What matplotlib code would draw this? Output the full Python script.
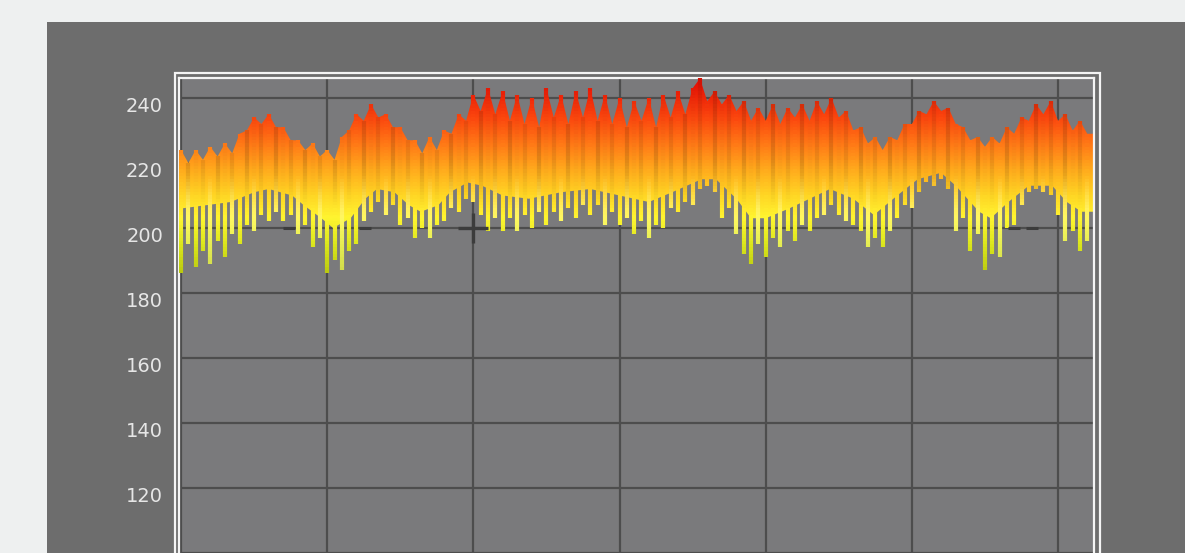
import numpy as np
import matplotlib
matplotlib.use("Agg")
import matplotlib.pyplot as plt
from matplotlib.collections import LineCollection
from matplotlib.colors import LinearSegmentedColormap, Normalize
from matplotlib.patches import Polygon, Rectangle
import matplotlib.transforms as mtransforms

W, H, DPI = 1185, 553, 100

# ---- data -----------------------------------------------------------------
x_step = 2.5  # spacing of the traces along x

# upper end of each trace
peak = [224, 220, 224, 221, 225, 222, 226, 223, 229, 230,
        234, 232, 235, 231, 231, 227, 227, 224, 226, 222,
        224, 221, 228, 230, 235, 233, 238, 234, 235, 231,
        231, 227, 227, 223, 228, 224, 230, 229, 235, 233,
        241, 236, 243, 235, 242, 233, 241, 232, 240, 231,
        243, 234, 241, 232, 242, 234, 243, 233, 241, 232,
        240, 231, 239, 233, 240, 231, 241, 234, 242, 235,
        243, 246, 239, 242, 238, 241, 236, 239, 233, 237,
        233, 238, 232, 237, 234, 238, 233, 239, 235, 240,
        234, 236, 230, 231, 226, 228, 224, 228, 227, 232,
        232, 236, 235, 239, 236, 237, 232, 231, 227, 228,
        225, 228, 226, 231, 229, 234, 233, 238, 235, 239,
        233, 235, 230, 233, 229]

# lower end of each trace
trough = [186, 195, 188, 193, 189, 196, 191, 198, 195, 201,
          199, 204, 202, 205, 202, 204, 198, 201, 194, 197,
          186, 190, 187, 193, 195, 202, 205, 208, 204, 207,
          201, 203, 197, 200, 197, 201, 202, 206, 205, 209,
          208, 204, 199, 203, 199, 203, 199, 204, 200, 205,
          201, 205, 202, 206, 203, 207, 204, 207, 201, 205,
          201, 203, 198, 202, 197, 201, 200, 206, 205, 208,
          207, 212, 213, 211, 203, 206, 198, 192, 189, 195,
          191, 197, 194, 199, 196, 201, 199, 203, 204, 207,
          204, 202, 201, 199, 194, 197, 194, 199, 203, 207,
          206, 211, 214, 213, 215, 212, 199, 203, 193, 198,
          187, 192, 191, 200, 201, 207, 211, 212, 211, 210,
          204, 196, 199, 193, 196]

# lower edge of the dense band
floor_x = [0, 17, 25, 30, 38, 42, 48, 52, 58, 63, 67, 73, 78, 82, 88, 92,
           98, 103, 110, 119, 130, 140, 150, 160, 168, 178, 183, 190, 195,
           200, 208, 215, 222, 230, 237, 245, 252, 260, 265, 273, 277, 283,
           290, 298, 303, 308, 312]
floor_v = [206, 208, 211, 212, 210, 207, 203, 200, 203, 209, 212, 211, 207,
           205, 207, 211, 214, 213, 210, 209, 211, 212, 210, 208, 211, 215,
           215, 209, 203, 203, 206, 209, 212, 209, 204, 210, 215, 217, 213,
           205, 203, 208, 213, 213, 208, 205, 205]

# dark reference marks on the 200 line
mark_plus_x, mark_plus_y = [100], [200]
mark_dash_x = [37, 63, 285, 291]
mark_dash_y = [200, 200, 200, 200]

y_ticks = [0, 20, 40, 60, 80, 100, 120, 140, 160, 180, 200, 220, 240]
x_ticks = [0, 50, 100, 150, 200, 250, 300]

x = x_step * np.arange(len(peak))

# ---- figure ---------------------------------------------------------------
fig = plt.figure(figsize=(W / DPI, H / DPI), dpi=DPI, facecolor="#eef0f0")
fig.patches.append(Rectangle((47 / W, -0.1), 1.0, 1.1 - 22 / H,
                             transform=fig.transFigure, facecolor="#6d6d6d",
                             edgecolor="none", zorder=-10))
fig.patches.append(Rectangle((175 / W, -0.5), (1100 - 175) / W, 0.5 + 1 - 73 / H,
                             transform=fig.transFigure, fill=False,
                             edgecolor="#f4f4f4", lw=1.6, zorder=5))

ax = fig.add_axes([179 / W, 1 - 878 / H, 915 / W, 800 / H])
ax.set_facecolor("#7a7a7c")
ax.set_xticks(x_ticks)
ax.set_yticks(y_ticks)
ax.grid(True, color="#4d4d4d", lw=1.6)
ax.set_axisbelow(True)
ax.tick_params(length=0, labelbottom=False, labelleft=False)
for s in ax.spines.values():
    s.set_color("#f4f4f4")
    s.set_linewidth(1.6)

# y labels, set slightly below their grid lines
lab_tr = ax.get_yaxis_transform() + mtransforms.ScaledTranslation(
    -16 / DPI, -9 / DPI, fig.dpi_scale_trans)
for v in y_ticks:
    ax.text(0, v, f"{v}", transform=lab_tr, ha="right", va="center",
            fontsize=14, color="#e6e6e6", family="DejaVu Sans", clip_on=False)

# ---- colour by value ------------------------------------------------------
norm = Normalize(184, 244)
nodes = [(184, "#b2c20c"), (195, "#dbe61c"), (203, "#fff530"), (210, "#ffd624"),
         (218, "#ffaa1c"), (226, "#ff7816"), (234, "#fb460e"), (244, "#e61405")]
cmap = LinearSegmentedColormap.from_list(
    "heat", [((v - 184) / 60, c) for v, c in nodes])

# solid body of the band, filled with a vertical gradient
top = [(floor_x[0], peak[0])] + list(zip(x, peak)) + [(floor_x[-1], peak[-1])]
bottom = list(zip(floor_x, floor_v))[::-1]
body = Polygon(top + bottom, closed=True, transform=ax.transData)
grad = np.linspace(176, 250, 400).reshape(-1, 1)
im = ax.imshow(grad, extent=[-1, 313, 176, 250], origin="lower", cmap=cmap,
               norm=norm, aspect="auto", zorder=2, interpolation="bilinear")
im.set_clip_path(body)
ax.set_xlim(-0.7, 312.3)
ax.set_ylim(0, 246.15)

# individual traces, coloured piecewise along their height; alternate traces
# are shaded a little darker (upper part) or paler (lower part) so the band
# reads as separate strands, with smooth ramps between the two zones
shade = [1.0, 0.88, 0.98, 0.92]
pale = np.array([1.0, 1.0, 0.82])
segs, cols = [], []
for i, (xi, lo, hi) in enumerate(zip(x, trough, peak)):
    edges = np.arange(lo, hi, 1.0).tolist() + [hi]
    for y0, y1 in zip(edges[:-1], edges[1:]):
        ym = 0.5 * (y0 + y1)
        c = np.array(cmap(norm(ym))[:3])
        w_dark = np.clip((ym - 206) / 14, 0, 1)
        c = c * (1 - w_dark * (1 - shade[i % 4]))
        if i % 3 == 1:
            w_pale = 0.3 * np.clip((216 - ym) / 10, 0, 1)
            c = (1 - w_pale) * c + w_pale * pale
        segs.append([(xi, y0), (xi, y1)])
        cols.append(np.clip(c, 0, 1))
lc = LineCollection(segs, colors=cols, linewidths=3.0, capstyle="butt", zorder=3)
ax.add_collection(lc)

ax.plot(mark_plus_x, mark_plus_y, ls="none", marker="+", ms=22, mew=2.4,
        color="#3c3c3c", zorder=4)
ax.plot(mark_dash_x, mark_dash_y, ls="none", marker="_", ms=9, mew=2.2,
        color="#3c3c3c", zorder=4)

fig.savefig("out.png", dpi=DPI, facecolor=fig.get_facecolor())
